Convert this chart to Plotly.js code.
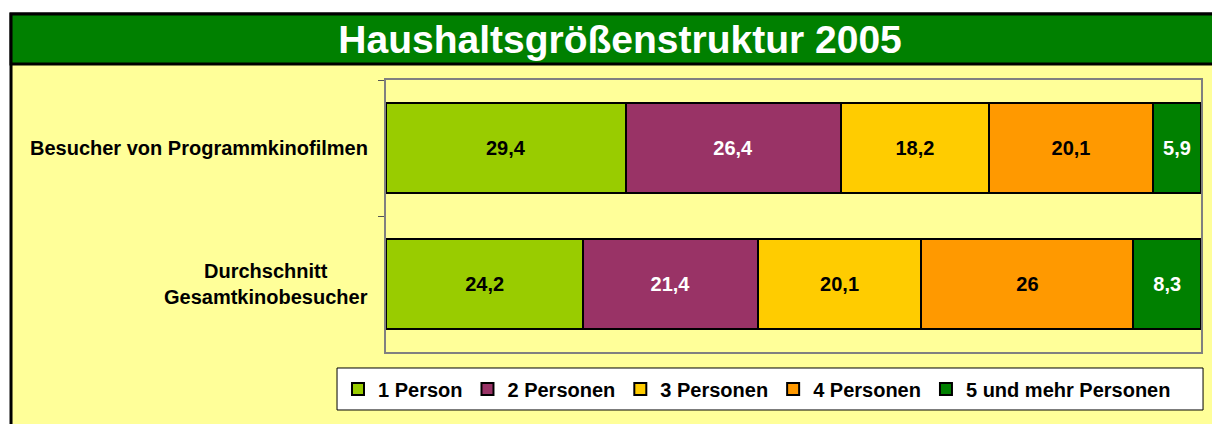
<!DOCTYPE html>
<html><head><meta charset="utf-8">
<script src="https://cdn.plot.ly/plotly-3.0.1.min.js"></script>
<style>body{margin:0;padding:0;background:#fff}#chart{width:1212px;height:424px}</style>
</head><body><div id="chart"></div>
<script>
const categories = ["Besucher von Programmkinofilmen", "Durchschnitt<br>Gesamtkinobesucher"];
const seriesNames = ["1 Person", "2 Personen", "3 Personen", "4 Personen", "5 und mehr Personen"];
const person1 = [29.4, 24.2];
const person2 = [26.4, 21.4];
const person3 = [18.2, 20.1];
const person4 = [20.1, 26];
const person5 = [5.9, 8.3];
const seriesValues = [person1, person2, person3, person4, person5];
const seriesColors = ["#99CC00", "#993366", "#FFCC00", "#FF9900", "#008000"];
const labelColors = ["#000000", "#FFFFFF", "#000000", "#000000", "#FFFFFF"];
const chartTitle = "Haushaltsgrößenstruktur 2005";

const FONT = "Arial, 'Liberation Sans', sans-serif";
const fmt = v => String(v).replace('.', ',');

const traces = seriesValues.map((vals, i) => ({
  type: 'bar', orientation: 'h',
  name: seriesNames[i],
  y: categories, x: vals,
  text: vals.map(fmt),
  textposition: 'inside', insidetextanchor: 'middle',
  constraintext: 'none',
  textfont: {family: FONT, size: 20, color: labelColors[i], weight: 'bold'},
  marker: {color: seriesColors[i], line: {color: '#000000', width: 2}},
  hoverinfo: 'name+x'
}));

const annotations = categories.map(c => ({
  xref: 'paper', yref: 'y', x: -0.0196, y: c,
  xanchor: 'right', yanchor: 'middle', align: 'center',
  text: '<b>' + c + '</b>', showarrow: false,
  font: {family: FONT, size: 20, color: '#000000'}
}));

const shapes = [
  {type: 'rect', xref: 'paper', yref: 'paper', x0: -0.4601, x1: 1.03, y0: -0.30, y1: 1.2426,
   fillcolor: '#FFFF99', line: {color: '#000000', width: 3}, layer: 'below'},
  {type: 'rect', xref: 'paper', yref: 'paper', x0: -0.4601, x1: 1.03, y0: 1.0588, y1: 1.2426,
   fillcolor: '#008000', line: {color: '#000000', width: 3}, layer: 'below'},
  {type: 'rect', xref: 'paper', yref: 'paper', x0: -0.0601, x1: 1.0025, y0: -0.2132, y1: -0.0588,
   fillcolor: '#FFFFFF', line: {color: '#000000', width: 1}, layer: 'below'}
];

const layout = {
  width: 1212, height: 424,
  margin: {l: 386, r: 11, t: 80, b: 72, pad: 0},
  paper_bgcolor: '#FFFFFF', plot_bgcolor: '#FFFFCC',
  barmode: 'stack', bargap: 0.34,
  font: {family: FONT, color: '#000000'},
  title: {text: '<b>' + chartTitle + '</b>', font: {family: FONT, size: 39, color: '#FFFFFF'},
          xref: 'container', yref: 'container', x: 0.5116, xanchor: 'center', y: 0.908, yanchor: 'middle'},
  xaxis: {range: [0, 100], showgrid: false, zeroline: false, showticklabels: false, ticks: '',
          showline: true, mirror: true, linecolor: '#808080', linewidth: 2, fixedrange: true},
  yaxis: {type: 'category', autorange: false, range: [1.5, -0.5], showgrid: false, zeroline: false,
          showticklabels: false, ticks: 'outside', tickson: 'boundaries', ticklen: 6, tickcolor: '#555555',
          showline: true, mirror: true, linecolor: '#808080', linewidth: 2, fixedrange: true},
  showlegend: true,
  legend: {orientation: 'h', x: -0.0589, xanchor: 'left', y: -0.136, yanchor: 'middle',
           bgcolor: 'rgba(0,0,0,0)', borderwidth: 0, traceorder: 'normal',
           font: {family: FONT, size: 20, color: '#000000', weight: 'bold'}},
  annotations: annotations,
  shapes: shapes
};

Plotly.newPlot('chart', traces, layout, {displayModeBar: false, staticPlot: true});
</script></body></html>
